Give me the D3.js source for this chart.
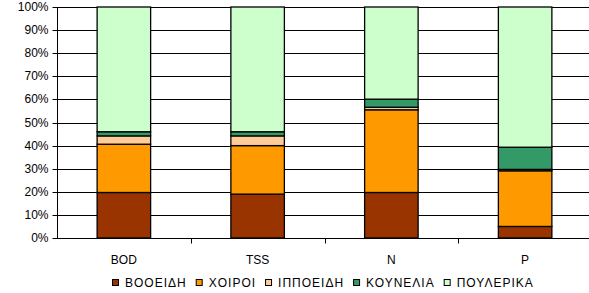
<!DOCTYPE html>
<html>
<head>
<meta charset="utf-8">
<script src="https://cdn.jsdelivr.net/npm/d3@7"></script>
<style>
  body { margin: 0; background: #fff; }
  svg text { font-family: Arial, "Liberation Sans", sans-serif; fill: #000; }
</style>
</head>
<body>
<svg id="chart" width="589" height="293"></svg>
<script>
// Data - share (%) of each animal group per parameter
var categories = ['BOD', 'TSS', 'N', 'P'];
var seriesNames = ['ΒΟΟΕΙΔΗ', 'ΧΟΙΡΟΙ', 'ΙΠΠΟΕΙΔΗ', 'ΚΟΥΝΕΛΙΑ', 'ΠΟΥΛΕΡΙΚΑ'];
var booeidh   = [19.7, 19.0, 19.7, 5.0];
var xoiroi    = [20.9, 21.0, 35.8, 24.1];
var ippoeidh  = [3.6, 4.2, 1.1, 0.6];
var kounelia  = [1.8, 1.8, 3.5, 9.6];
var poulerika = [54.0, 54.0, 39.9, 60.7];
var yTicks = [0, 10, 20, 30, 40, 50, 60, 70, 80, 90, 100];

var colors = ['#993300', '#FF9900', '#FFCC99', '#339966', '#CCFFCC'];

// build rows for d3.stack
var rows = categories.map(function (c, i) {
   return {cat: c, s0: booeidh[i], s1: xoiroi[i], s2: ippoeidh[i], s3: kounelia[i], s4: poulerika[i]};
});
var keys = ['s0', 's1', 's2', 's3', 's4'];

var svg = d3.select('#chart');
// plot box (note: 'top' is reserved on window, so use other names)
var plotLeft = 57, plotRight = 592, plotTop = 7, plotBottom = 238;

var x = d3.scaleBand().domain(categories).range([plotLeft, plotRight]).paddingInner(0.6).paddingOuter(0.3);
var y = d3.scaleLinear().domain([0, 100]).range([plotBottom, plotTop]);
var py = function (v) { return Math.round(y(v)) + 0.5; };

// gridlines
svg.append('g')
   .selectAll('line')
   .data(yTicks.slice(1))
   .enter().append('line')
      .attr('x1', plotLeft).attr('x2', 589)
      .attr('y1', function (d) { return py(d); })
      .attr('y2', function (d) { return py(d); })
      .attr('stroke', '#000').attr('stroke-width', 1);

// y axis
var yAxis = svg.append('g')
   .attr('transform', 'translate(' + (plotLeft + 0.5) + ',0)')
   .call(d3.axisLeft(y).tickValues(yTicks).tickSize(5).tickPadding(4)
      .tickFormat(function (d) { return d + '%'; }));
yAxis.select('.domain').attr('stroke', '#000').attr('d', 'M0,' + py(100) + 'V' + py(0));
yAxis.selectAll('.tick line').attr('stroke', '#000');
yAxis.selectAll('.tick').attr('transform', function (d) { return 'translate(0,' + py(d) + ')'; });
yAxis.selectAll('text').attr('font-size', 12).attr('font-family', 'Arial, "Liberation Sans", sans-serif');

// x axis baseline + ticks at band boundaries
var step = x.step();
var xBase = svg.append('g');
xBase.append('line')
   .attr('x1', plotLeft).attr('x2', 589)
   .attr('y1', py(0)).attr('y2', py(0))
   .attr('stroke', '#000');
xBase.selectAll('line.tk')
   .data(categories.slice(1))
   .enter().append('line')
      .attr('class', 'tk')
      .attr('x1', function (d) { return Math.round(x(d) + x.bandwidth() / 2 - step / 2) + 0.5; })
      .attr('x2', function (d) { return Math.round(x(d) + x.bandwidth() / 2 - step / 2) + 0.5; })
      .attr('y1', py(0)).attr('y2', py(0) + 5)
      .attr('stroke', '#000');
xBase.selectAll('text')
   .data(categories)
   .enter().append('text')
      .attr('x', function (d) { return x(d) + x.bandwidth() / 2; })
      .attr('y', 264)
      .attr('text-anchor', 'middle')
      .attr('font-size', 12)
      .text(function (d) { return d; });

// stacked bars
var stacked = d3.stack().keys(keys)(rows);
svg.append('g')
   .selectAll('g')
   .data(stacked)
   .enter().append('g')
      .attr('fill', function (d, i) { return colors[i]; })
   .selectAll('rect')
   .data(function (d) { return d; })
   .enter().append('rect')
      .attr('x', function (d) { return x(d.data.cat); })
      .attr('width', x.bandwidth())
      .attr('y', function (d) { return y(d[1]); })
      .attr('height', function (d) { return y(d[0]) - y(d[1]); })
      .attr('stroke', '#000').attr('stroke-width', 1.3);

// legend - items laid out one after another, measured
var legend = svg.append('g').attr('transform', 'translate(0,279)');
var lx = 112;
seriesNames.forEach(function (name, i) {
   var item = legend.append('g').attr('transform', 'translate(' + lx + ',0)');
   item.append('rect')
      .attr('x', 0.5).attr('y', 0.5).attr('width', 6).attr('height', 6)
      .attr('fill', colors[i])
      .attr('stroke', '#000');
   var t = item.append('text')
      .attr('x', 13).attr('y', 8)
      .attr('font-size', 12)
      .attr('letter-spacing', 1)
      .text(name);
   lx += 13 + t.node().getComputedTextLength() + 9;
});
</script>
</body>
</html>
